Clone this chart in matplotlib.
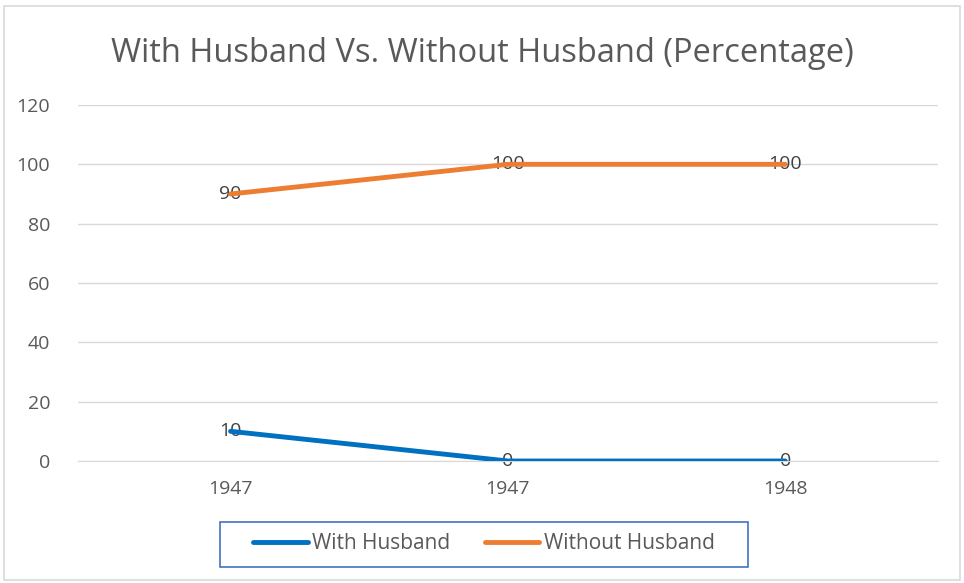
import matplotlib.pyplot as plt
from matplotlib.patches import Rectangle

years = ['1947', '1947', '1948']
with_husband = [10, 0, 0]
without_husband = [90, 100, 100]

W, H = 964, 583
fig = plt.figure(figsize=(W / 100, H / 100), dpi=100)
fig.patches.append(Rectangle((0.004, 0.006), 0.992, 0.984, transform=fig.transFigure,
                             fill=False, edgecolor='#d9d9d9', lw=1.2))

ax = fig.add_axes([0.0809, 0.2093, 0.892, 0.6106])
x = range(len(years))
ax.plot(x, with_husband, color='#0070c0', lw=3.5, label='With Husband', solid_capstyle='round', zorder=3)
ax.plot(x, without_husband, color='#ed7d31', lw=3.5, label='Without Husband', solid_capstyle='round', zorder=3)

# data labels sit under the lines, as in the original
for xi, v in zip(x, with_husband):
    ax.text(xi, v, str(v), ha='center', va='center', fontsize=14, color='#404040',
            family='Open Sans', zorder=2)
for xi, v in zip(x, without_husband):
    ax.text(xi, v, str(v), ha='center', va='center', fontsize=14, color='#404040',
            family='Open Sans', zorder=2)

ax.set_xlim(-0.55, 2.55)
ax.set_ylim(0, 120)
ax.set_yticks(range(0, 121, 20))
ax.set_xticks(list(x))
ax.set_xticklabels(years)
ax.grid(axis='y', color='#d9d9d9', lw=1)
ax.set_axisbelow(True)
for s in ax.spines.values():
    s.set_visible(False)
ax.spines['bottom'].set_visible(True)
ax.spines['bottom'].set_color('#d9d9d9')
ax.tick_params(length=0, labelsize=14, colors='#595959')
ax.tick_params(axis='x', pad=14)
ax.tick_params(axis='y', pad=20)
for lab in ax.get_xticklabels() + ax.get_yticklabels():
    lab.set_family('Open Sans')

fig.text(0.5, 0.908, 'With Husband Vs. Without Husband (Percentage)', ha='center', va='center',
         fontsize=23.5, color='#595959', family='Open Sans')

leg = fig.legend(loc='center', bbox_to_anchor=(0.502, 0.067), ncol=2, frameon=False,
                 fontsize=15, handlelength=2.6, columnspacing=1.7, handletextpad=0.2)
for t in leg.get_texts():
    t.set_color('#595959')
    t.set_family('Open Sans')
# legend box, Excel style with wide inner margins
fig.patches.append(Rectangle((220 / W, 1 - 567 / H), 528 / W, 45 / H, transform=fig.transFigure,
                             fill=False, edgecolor='#4472c4', lw=1.2))

fig.savefig('out.png', dpi=100)
